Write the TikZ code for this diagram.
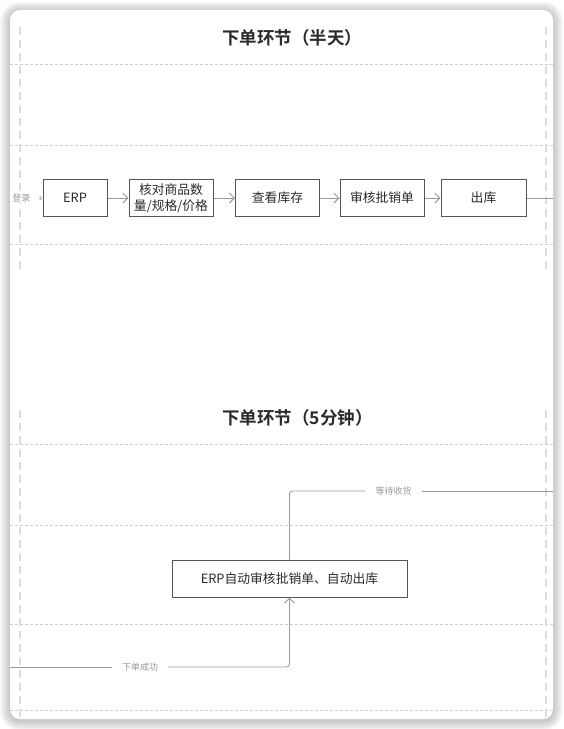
\documentclass[tikz,border=0pt]{standalone}
\usepackage{fontspec}
\setmainfont{Noto Sans CJK SC}[BoldFont={Noto Sans CJK SC Bold}]
\usetikzlibrary{arrows.meta}
\definecolor{boxline}{HTML}{555555}
\definecolor{connc}{HTML}{9A9A9A}
\definecolor{lblc}{HTML}{999999}
\definecolor{txtc}{HTML}{2B2B2B}
\definecolor{hdc}{HTML}{CFCFCF}
\definecolor{vdc}{HTML}{DDDDDD}
\tikzset{
  box/.style={draw=boxline, line width=1, fill=white, minimum height=37, inner sep=1,
    text=txtc, font=\fontsize{12.8}{17}\selectfont, align=center},
  conn/.style={draw=connc, line width=0.9},
  arr/.style={-{Straight Barb[length=5,width=10,line width=0.9]}},
  lbl/.style={text=lblc, font=\fontsize{9}{10}\selectfont, inner ysep=1, inner xsep=10},
  hdash/.style={draw=hdc, line width=0.7, dash pattern=on 3 off 2},
  vdash/.style={draw=vdc, line width=1.6, dash pattern=on 8 off 5},
  ttl/.style={text=txtc, font=\fontsize{17.5}{20}\selectfont\bfseries, anchor=west, inner sep=0}
}
\begin{document}
\begin{tikzpicture}[x=1pt,y=-1pt]
\useasboundingbox (0,0) rectangle (563,729);
% shadow
\foreach \i in {1,...,10}{
  \pgfmathsetmacro\rr{10+\i}
  \fill[black, opacity=0.022, rounded corners=\rr pt] (10-\i,10-\i+1.5) rectangle (553+\i,719+\i+1.5);
}
\fill[white, rounded corners=10] (10,10) rectangle (553,719);
% guide lines
\foreach \y in {64.3,145.3,244.3,444.3,525.3,624.3,710}{
  \draw[hdash] (10,\y) -- (553,\y);
}
\draw[vdash] (20,27) -- (20,270);
\draw[vdash] (546,27) -- (546,270);
\draw[vdash] (20,410) -- (20,719);
\draw[vdash] (546,410) -- (546,719);
% titles
\node[ttl] (t1) at (222,38) {下单环节（半天）};
\node[ttl] (t2) at (222,418) {下单环节（5分钟）};
% top row
\node[lbl, fill=white, inner xsep=1.5] (login) at (21.5,198) {登录};
\node[box, minimum width=64] (erp) at (75,198) {ERP};
\node[box, minimum width=84] (check) at (171,198) {核对商品数\\[-1.5pt]量/规格/价格};
\node[box, minimum width=84] (stock) at (277.5,198) {查看库存};
\node[box, minimum width=84] (audit) at (382,198) {审核批销单};
\node[box, minimum width=85] (out) at (483.5,198) {出库};
\coordinate (rightend) at (553,198);
\draw[conn, -{Straight Barb[length=2,width=4,line width=0.8]}, draw=lblc!70, shorten <=6.5] (login.east) -- (erp.west);
\draw[conn, arr] (erp.east) -- (check.west);
\draw[conn, arr] (check.east) -- (stock.west);
\draw[conn, arr] (stock.east) -- (audit.west);
\draw[conn, arr] (audit.east) -- (out.west);
\draw[conn] (out.east) -- (rightend);
% bottom section
\node[box, minimum width=235] (auto) at (289.5,578.5) {ERP自动审核批销单、自动出库};
\node[lbl] (wait) at (393.5,491) {等待收货};
\node[lbl] (ok) at (140,667) {下单成功};
\coordinate (leftend) at (10,667);
\coordinate (rend2) at (553,491);
\draw[conn] (leftend) -- (ok.west);
\draw[conn, arr, rounded corners=3] (ok.east) -| (auto.south);
\draw[conn, rounded corners=3] (auto.north) |- (wait.west);
\draw[conn] (wait.east) -- (rend2);
\end{tikzpicture}
\end{document}
